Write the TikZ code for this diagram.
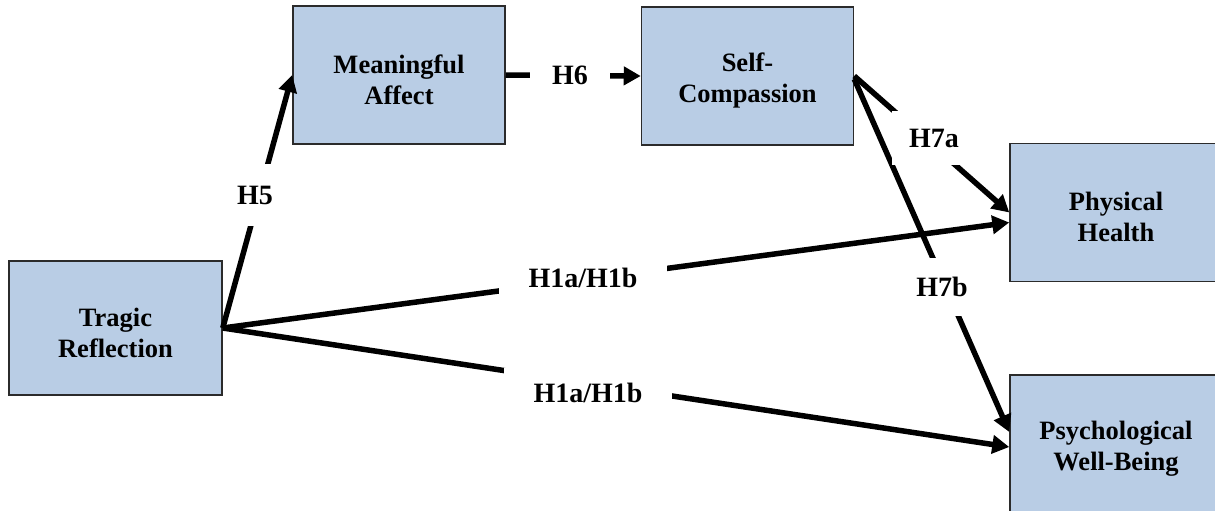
\documentclass[tikz,border=0pt]{standalone}
\usepackage{fontspec}
\setmainfont{Liberation Serif}
\usetikzlibrary{arrows.meta}
\definecolor{boxblue}{HTML}{B9CDE5}
\definecolor{boxedge}{HTML}{2B2B2B}
% strut that lowers the two-line captions a little inside their boxes
\newcommand{\capstrut}{\rule{0pt}{28pt}}
\begin{document}
\begin{tikzpicture}[x=1pt,y=-1pt,
  var/.style={draw=boxedge, line width=1.5pt, fill=boxblue,
    minimum width=212pt, minimum height=138pt, inner sep=0pt,
    align=center, font=\fontsize{26.5}{31}\selectfont\bfseries},
  link/.style={line width=5.5pt, -{Triangle[length=17pt,width=18pt]}},
  hyp/.style={fill=white, inner sep=0pt,
    font=\fontsize{28}{30}\selectfont\bfseries},
]
\useasboundingbox (0,0) rectangle (1215,511);
\clip (0,0) rectangle (1215,511);

% constructs
\node[var, minimum width=213pt, minimum height=134pt] (TR) at (115.5,328) {\capstrut Tragic\\Reflection};
\node[var] (MA) at (399,75) {\capstrut Meaningful\\Affect};
\node[var] (SC) at (747.5,76) {\capstrut Self-\\Compassion};
\node[var] (PH) at (1116,212.5) {\capstrut Physical\\Health};
\node[var] (PWB) at (1116,444) {\capstrut Psychological\\Well-Being};

% hypothesised paths
\draw[link] (TR.east) -- (MA.west);
\draw[link] (MA.east) -- (SC.west);
\draw[link] (SC.east) -- (PH.west);
\draw[link] ([yshift=-3pt]SC.east) -- ([yshift=12pt]PWB.west);
\draw[link] (TR.east) -- ([yshift=-10pt]PH.west);
\draw[link] (TR.east) -- ([yshift=-3pt]PWB.west);

% path labels on white patches
\node[hyp, minimum width=50pt, minimum height=62pt] (l5) at (255,195) {H5};
\node[hyp, minimum width=80pt, minimum height=20pt] (l6) at (570,75) {H6};
\node[hyp, minimum width=84pt, minimum height=54pt] (l7a) at (934,138) {H7a};
\node[hyp, minimum width=70pt, minimum height=58pt] (l7b) at (942,287) {H7b};
\node[hyp, minimum width=168pt, minimum height=44pt] (l1u) at (583,278) {H1a/H1b};
\node[hyp, minimum width=168pt, minimum height=50pt] (l1l) at (588,393) {H1a/H1b};
\end{tikzpicture}
\end{document}
